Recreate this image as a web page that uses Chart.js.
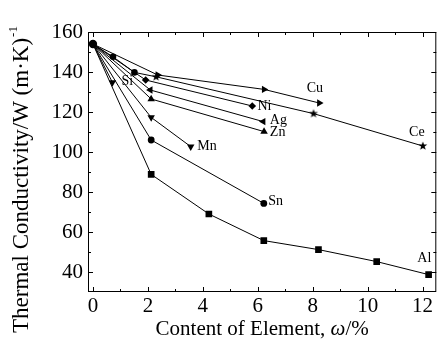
<!DOCTYPE html>
<html><head><meta charset="utf-8">
<script src="https://cdn.jsdelivr.net/npm/chart.js@4/dist/chart.umd.min.js"></script>
<style>html,body{margin:0;padding:0;background:#fff}#wrap{width:441px;height:347px}</style>
</head><body><div id="wrap"><canvas id="c" width="441" height="347"></canvas></div>
<script>
// ---- data ----
const xTickValues = [0, 2, 4, 6, 8, 10, 12];
const yTickValues = [40, 60, 80, 100, 120, 140, 160];
const xMinorValues = [1, 3, 5, 7, 9, 11];
const yMinorValues = [50, 70, 90, 110, 130, 150];
const pureX = [0];
const pureY = [154];

const alX = [0, 2.12, 4.22, 6.22, 8.21, 10.33, 12.22];
const alY = [154, 88.8, 69, 55.7, 51.2, 45.2, 38.7];
const snX = [0, 2.12, 6.22];
const snY = [154, 106, 74.3];
const mnX = [0, 2.12, 3.56];
const mnY = [154, 117.3, 102.7];
const siX = [0, 0.71];
const siY = [154, 134.8];
const znX = [0, 2.12, 6.23];
const znY = [154, 126.5, 110.2];
const agX = [0, 2.09, 6.2];
const agY = [154, 131, 115.2];
const niX = [0, 1.92, 5.8];
const niY = [154, 136, 123];
const cuX = [0, 2.36, 6.23, 8.24];
const cuY = [154, 138.5, 131.3, 124.5];
const ceX = [0, 0.73, 1.51, 2.3, 8.03, 12.01];
const ceY = [154, 147.6, 139.8, 137.6, 119.2, 103];

const labelNames = ['Si', 'Cu', 'Ni', 'Ag', 'Zn', 'Ce', 'Mn', 'Sn', 'Al'];
const labelX = [1.04, 7.78, 5.99, 6.44, 6.44, 11.51, 3.8, 6.38, 11.81];
const labelY = [135.2, 131.8, 123, 116, 109.8, 109.6, 103, 75.5, 46.8];

// ---- helpers ----
function makeStar(r) {
  const c = document.createElement('canvas');
  const s = Math.ceil(r * 2) + 2;
  c.width = c.height = s;
  const g = c.getContext('2d');
  g.beginPath();
  for (let i = 0; i < 10; i++) {
    const rr = i % 2 ? r * 0.42 : r;
    const a = -Math.PI / 2 + i * Math.PI / 5;
    g.lineTo(s / 2 + rr * Math.cos(a), s / 2 + rr * Math.sin(a));
  }
  g.closePath(); g.fillStyle = '#000'; g.fill();
  return c;
}
const star = makeStar(4.6);
const pts = (xs, ys) => xs.map((v, i) => ({ x: v, y: ys[i] }));

function series(xs, ys, style, radius, rotation) {
  return {
    data: pts(xs, ys),
    borderColor: '#000', borderWidth: 1,
    backgroundColor: '#000', pointBackgroundColor: '#000', pointBorderColor: '#000', pointBorderWidth: 0,
    pointStyle: Array.isArray(style) ? style : xs.map(() => style),
    pointRadius: xs.map((v, i) => i === 0 ? 0 : (Array.isArray(radius) ? radius[i] : radius)),
    pointRotation: rotation || 0,
    tension: 0, fill: false
  };
}

const datasets = [
  series(alX, alY, 'rect', 4.7),
  series(snX, snY, 'circle', 3.4),
  series(mnX, mnY, 'triangle', 4.3, 180),
  series(siX, siY, 'triangle', 4.3, 180),
  series(znX, znY, 'triangle', 4.3),
  series(agX, agY, 'triangle', 4.3, 270),
  series(niX, niY, 'rectRot', 3.8),
  series(cuX, cuY, 'triangle', 4.3, 90),
  series(ceX, ceY, ['circle', 'circle', 'circle', star, star, star], [0, 3.3, 3.3, 4, 4, 4]),
  { data: pts(pureX, pureY), showLine: false, pointStyle: 'circle', pointRadius: 4.2,
    pointBackgroundColor: '#000', pointBorderColor: '#000', pointBorderWidth: 0 }
];

const SERIF = '"Liberation Serif", "Times New Roman", serif';

const overlay = {
  id: 'overlay',
  afterDraw(chart) {
    const { ctx, chartArea: a, scales: { x, y } } = chart;
    ctx.save();
    ctx.strokeStyle = '#000'; ctx.lineWidth = 1;
    ctx.strokeRect(a.left + 0.5, a.top + 0.5, a.right - a.left - 1, a.bottom - a.top - 1);
    ctx.beginPath();
    const tickX = (v, len) => {
      const px = Math.round(x.getPixelForValue(v)) + 0.5;
      ctx.moveTo(px, a.bottom); ctx.lineTo(px, a.bottom - len);
      ctx.moveTo(px, a.top); ctx.lineTo(px, a.top + len);
    };
    const tickY = (v, len) => {
      const py = Math.round(y.getPixelForValue(v)) + 0.5;
      ctx.moveTo(a.left, py); ctx.lineTo(a.left + len, py);
      ctx.moveTo(a.right, py); ctx.lineTo(a.right - len, py);
    };
    xTickValues.forEach(v => tickX(v, 5));
    xMinorValues.forEach(v => tickX(v, 3));
    yTickValues.forEach(v => tickY(v, 5));
    yMinorValues.forEach(v => tickY(v, 3));
    ctx.stroke();

    // series labels
    ctx.fillStyle = '#000';
    ctx.font = '14px ' + SERIF;
    ctx.textAlign = 'left'; ctx.textBaseline = 'middle';
    labelNames.forEach((n, i) => ctx.fillText(n, x.getPixelForValue(labelX[i]), y.getPixelForValue(labelY[i])));

    // x title
    ctx.textBaseline = 'alphabetic';
    const p1 = 'Content of Element, ', p2 = '\u03C9', p3 = '/%';
    ctx.font = '21px ' + SERIF; const w1 = ctx.measureText(p1).width, w3 = ctx.measureText(p3).width;
    ctx.font = 'italic 21px ' + SERIF; const w2 = ctx.measureText(p2).width;
    let sx = (a.left + a.right) / 2 - (w1 + w2 + w3) / 2;
    const by = 335;
    ctx.font = '21px ' + SERIF; ctx.fillText(p1, sx, by); sx += w1;
    ctx.font = 'italic 21px ' + SERIF; ctx.fillText(p2, sx, by); sx += w2;
    ctx.font = '21px ' + SERIF; ctx.fillText(p3, sx, by);

    // y title
    const t = 'Thermal Conductivity/W (m\u00B7K)';
    ctx.font = '23px ' + SERIF;
    const tw = ctx.measureText(t).width;
    ctx.translate(28, 333);
    ctx.rotate(-Math.PI / 2);
    ctx.fillText(t, 0, 0);
    ctx.font = '13px ' + SERIF;
    ctx.fillText('-1', tw + 1, -11);
    ctx.restore();
  }
};

new Chart(document.getElementById('c'), {
  type: 'line',
  data: { datasets },
  plugins: [overlay],
  options: {
    responsive: false, animation: false, devicePixelRatio: 1,
    layout: { padding: { left: 0, top: 32, right: 1, bottom: 0 } },
    plugins: { legend: { display: false }, tooltip: { enabled: false } },
    scales: {
      x: {
        type: 'linear', min: -0.18, max: 12.5,
        grid: { display: false, drawTicks: false }, border: { display: false },
        afterBuildTicks: s => { s.ticks = xTickValues.map(v => ({ value: v })); },
        afterFit: s => { s.height = 55; },
        ticks: { color: '#000', font: { family: SERIF, size: 21 }, padding: 2, maxRotation: 0, autoSkip: false }
      },
      y: {
        type: 'linear', min: 30, max: 160,
        grid: { display: false, drawTicks: false }, border: { display: false },
        afterBuildTicks: s => { s.ticks = yTickValues.map(v => ({ value: v })); },
        afterFit: s => { s.width = 88; },
        ticks: { color: '#000', font: { family: SERIF, size: 21 }, padding: 5, autoSkip: false }
      }
    }
  }
});
</script>
</body></html>
